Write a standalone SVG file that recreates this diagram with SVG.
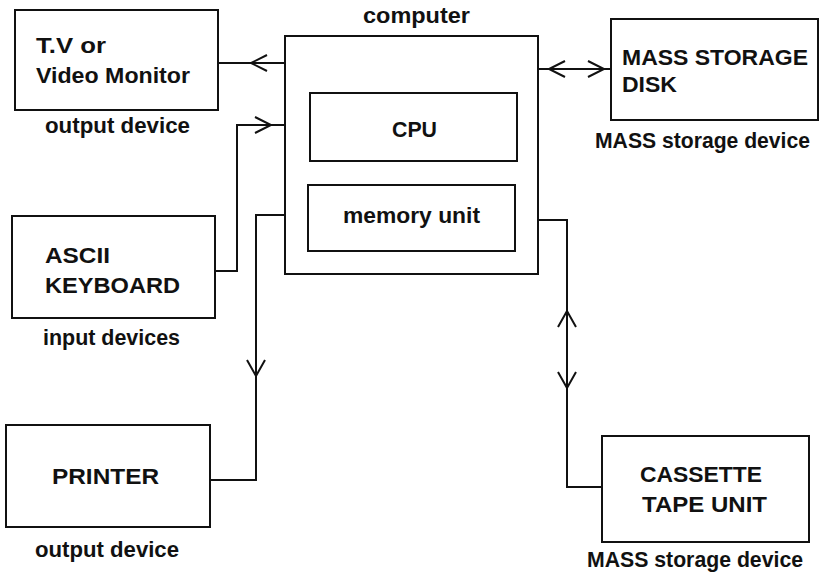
<svg xmlns="http://www.w3.org/2000/svg" width="823" height="574" viewBox="0 0 823 574">
<style>
.box{fill:none;stroke:#111;stroke-width:2}
.ln{fill:none;stroke:#111;stroke-width:2}
.ah{fill:none;stroke:#111;stroke-width:2;stroke-linejoin:miter}
text{font-family:"Liberation Sans",Arial,sans-serif;font-weight:bold;font-size:22px;fill:#111}
</style>
<rect width="823" height="574" fill="#fff"/>
<g id="connectors">
  <!-- computer to TV -->
  <path class="ln" d="M219,63 H285"/>
  <path class="ah" d="M267,55 L251,63 L267,71"/>
  <!-- keyboard to computer -->
  <path class="ln" d="M215,271 H237 V125 H285"/>
  <path class="ah" d="M255,117 L271,125 L255,133"/>
  <!-- computer to printer -->
  <path class="ln" d="M285,215 H256 V480 H210"/>
  <path class="ah" d="M247,360 L256,376 L265,360"/>
  <!-- computer to disk -->
  <path class="ln" d="M538,69 H611"/>
  <path class="ah" d="M565,61 L549,69 L565,77"/>
  <path class="ah" d="M588,61 L604,69 L588,77"/>
  <!-- computer to cassette -->
  <path class="ln" d="M538,220 H567 V487 H602"/>
  <path class="ah" d="M558,327 L567,311 L576,327"/>
  <path class="ah" d="M558,372 L567,388 L576,372"/>
</g>
<g id="tv">
  <rect class="box" x="15" y="10" width="203" height="100"/>
  <text x="36" y="53" textLength="70" lengthAdjust="spacingAndGlyphs">T.V or</text>
  <text x="36" y="83" textLength="154" lengthAdjust="spacingAndGlyphs">Video Monitor</text>
  <text x="45" y="133" textLength="145" lengthAdjust="spacingAndGlyphs">output device</text>
</g>
<g id="computer">
  <rect class="box" x="285" y="36" width="253" height="238"/>
  <text x="363" y="23" textLength="107" lengthAdjust="spacingAndGlyphs">computer</text>
</g>
<g id="cpu">
  <rect class="box" x="310" y="93" width="207" height="68"/>
  <text x="392" y="137" textLength="45" lengthAdjust="spacingAndGlyphs">CPU</text>
</g>
<g id="memory">
  <rect class="box" x="308" y="185" width="207" height="66"/>
  <text x="343" y="223" textLength="137" lengthAdjust="spacingAndGlyphs">memory unit</text>
</g>
<g id="keyboard">
  <rect class="box" x="12" y="216" width="203" height="102"/>
  <text x="45" y="263" textLength="65" lengthAdjust="spacingAndGlyphs">ASCII</text>
  <text x="45" y="293" textLength="135" lengthAdjust="spacingAndGlyphs">KEYBOARD</text>
  <text x="43" y="345" textLength="137" lengthAdjust="spacingAndGlyphs">input devices</text>
</g>
<g id="printer">
  <rect class="box" x="6" y="425" width="204" height="102"/>
  <text x="52" y="484" textLength="107" lengthAdjust="spacingAndGlyphs">PRINTER</text>
  <text x="35" y="557" textLength="144" lengthAdjust="spacingAndGlyphs">output device</text>
</g>
<g id="disk">
  <rect class="box" x="611" y="19" width="207" height="101"/>
  <text x="622" y="65" textLength="186" lengthAdjust="spacingAndGlyphs">MASS STORAGE</text>
  <text x="622" y="92" textLength="55" lengthAdjust="spacingAndGlyphs">DISK</text>
  <text x="595" y="148" textLength="215" lengthAdjust="spacingAndGlyphs">MASS storage device</text>
</g>
<g id="cassette">
  <rect class="box" x="602" y="436" width="207" height="106"/>
  <text x="640" y="482" textLength="122" lengthAdjust="spacingAndGlyphs">CASSETTE</text>
  <text x="642" y="512" textLength="125" lengthAdjust="spacingAndGlyphs">TAPE UNIT</text>
  <text x="587" y="567" textLength="216" lengthAdjust="spacingAndGlyphs">MASS storage device</text>
</g>
</svg>
